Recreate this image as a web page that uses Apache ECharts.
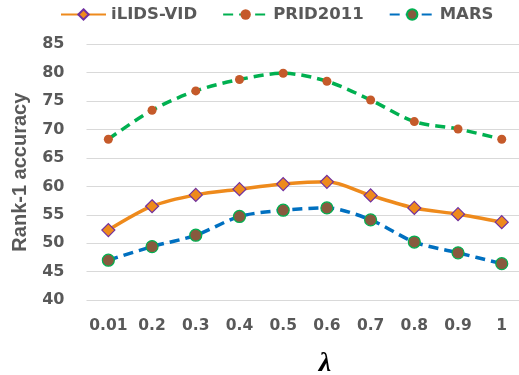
<!DOCTYPE html>
<html>
<head>
<meta charset="utf-8">
<script src="https://cdn.jsdelivr.net/npm/echarts@6/dist/echarts.min.js"></script>
<style>html,body{margin:0;padding:0;background:#fff;}#c{width:519px;height:375px;}</style>
</head>
<body>
<div id="c"></div>
<script>
const categories = ['0.01','0.2','0.3','0.4','0.5','0.6','0.7','0.8','0.9','1'];
const ilidsVid = [52.3,56.5,58.5,59.5,60.4,60.8,58.4,56.2,55.1,53.7];
const prid2011 = [68.3,73.4,76.8,78.8,79.9,78.5,75.2,71.4,70.1,68.3];
const mars = [47.0,49.4,51.4,54.7,55.8,56.2,54.1,50.2,48.3,46.4];
const seriesNames = ['iLIDS-VID','PRID2011','MARS'];

const chart = echarts.init(document.getElementById('c'));
const txt = '#595959';
chart.setOption({
  animation: false,
  backgroundColor: '#fff',
  grid: { left: 86.5, right: -4.6, top: 44.3, bottom: 75, containLabel: false, outerBoundsMode: 'none' },
  legend: {
    top: 1, left: 55,
    itemWidth: 45, itemHeight: 13, itemGap: 25,
    data: seriesNames,
    textStyle: { color: txt, fontFamily: 'DejaVu Sans', fontWeight: 'bold', fontSize: 16.5 }
  },
  xAxis: {
    type: 'category',
    data: categories,
    boundaryGap: true,
    axisLine: { show: false },
    axisTick: { show: false },
    axisLabel: { interval: 0, hideOverlap: false, color: txt, fontFamily: 'DejaVu Sans', fontWeight: 'bold', fontSize: 15.5, margin: 18 },
    name: 'λ',
    nameLocation: 'middle',
    nameGap: 50,
    nameTextStyle: { color: '#000', fontFamily: 'Liberation Serif', fontWeight: 'bold', fontStyle: 'italic', fontSize: 28, padding: [0,0,0,40] }
  },
  yAxis: {
    type: 'value',
    min: 40, max: 85, interval: 5,
    axisLine: { show: false },
    axisTick: { show: false },
    splitLine: { lineStyle: { color: '#D9D9D9', width: 1 } },
    axisLabel: { color: txt, fontFamily: 'DejaVu Sans', fontWeight: 'bold', fontSize: 16, margin: 22 },
    name: 'Rank-1 accuracy',
    nameLocation: 'middle',
    nameGap: 56,
    nameTextStyle: { color: txt, fontFamily: 'Liberation Sans', fontWeight: 'bold', fontSize: 20 }
  },
  series: [
    {
      name: seriesNames[0], type: 'line', data: ilidsVid, smooth: 0.3,
      symbol: 'diamond', symbolSize: 13,
      lineStyle: { color: '#EE8A1C', width: 3.5 },
      itemStyle: { color: '#EE8A1C', borderColor: '#7030A0', borderWidth: 1.2 }
    },
    {
      name: seriesNames[1], type: 'line', data: prid2011, smooth: 0.3,
      symbol: 'circle', symbolSize: 9,
      lineStyle: { color: '#00B050', width: 3.5, type: [10, 6] },
      itemStyle: { color: '#C55A2A', borderColor: '#C55A2A', borderWidth: 0 }
    },
    {
      name: seriesNames[2], type: 'line', data: mars, smooth: 0.3,
      symbol: 'circle', symbolSize: 12,
      lineStyle: { color: '#0070C0', width: 3.5, type: [10, 6] },
      itemStyle: { color: '#875A3E', borderColor: '#00B050', borderWidth: 1.2 }
    }
  ]
});
</script>
</body>
</html>
